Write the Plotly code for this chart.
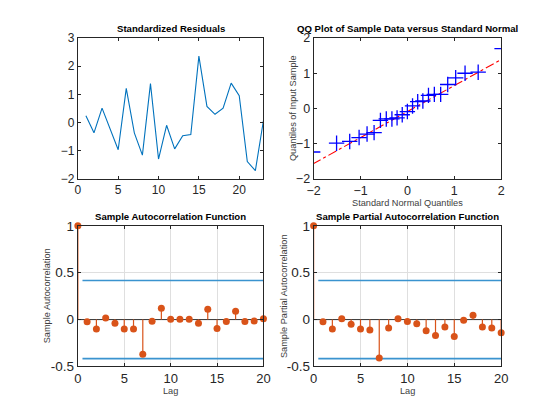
import plotly.graph_objects as go

# ---------------- data ----------------
res_t = list(range(1, 24))
res_vals = [0.24, -0.37, 0.51, -0.22, -0.97, 1.21, -0.37, -1.16, 1.38, -1.30,
            -0.10, -0.94, -0.47, -0.43, 2.36, 0.57, 0.29, 0.51, 1.40, 0.95,
            -1.39, -1.71, 0.07]

qq_theory = [-2.02, -1.51, -1.23, -1.03, -0.86, -0.71, -0.575, -0.45, -0.33, -0.22,
             -0.11, 0.0, 0.11, 0.22, 0.33, 0.45, 0.575, 0.71, 0.86, 1.03,
             1.23, 1.51, 2.02]
qq_sample = [-1.24, -0.99, -0.94, -0.83, -0.73, -0.69, -0.34, -0.30, -0.30, -0.27,
             -0.18, -0.09, 0.07, 0.19, 0.21, 0.37, 0.40, 0.40, 0.68, 0.87,
             1.00, 1.03, 1.70]
qq_line_x = [-2.02, 2.02]
qq_line_y = [-1.585, 1.405]

lags = list(range(0, 21))
acf_vals = [1.0, -0.024, -0.10, 0.017, -0.04, -0.10, -0.10, -0.37, -0.017, 0.12,
            0.003, 0.003, 0.003, -0.04, 0.11, -0.095, -0.02, 0.09, -0.02, -0.014, 0.01]
pacf_vals = [1.0, -0.024, -0.10, 0.01, -0.05, -0.10, -0.11, -0.41, -0.09, 0.01,
             -0.02, -0.045, -0.12, -0.17, -0.08, -0.18, -0.007, 0.045, -0.08, -0.09, -0.14]
conf_bound = 0.417
bound_x = [0.5, 20]

titles = ["Standardized Residuals", "QQ Plot of Sample Data versus Standard Normal",
          "Sample Autocorrelation Function", "Sample Partial Autocorrelation Function"]

# ---------------- styling ----------------
OFF = 8                      # default page body margin
W, H = 560 - 2 * OFF, 420 - 2 * OFF
FONT = "Liberation Sans, Arial, sans-serif"
AX = "#262626"
BLUE = "#0072BD"
ORANGE = "#D95319"
BOUND = "#3A93CF"

def px_x(p):
    return (p - OFF) / W

def px_y(p):
    return 1 - (p - OFF) / H

dom_x_left = [px_x(72.5), px_x(263)]
dom_x_right = [px_x(314.5), px_x(507)]
dom_y_top = [px_y(178), px_y(32)]
dom_y_bot = [px_y(373), px_y(227)]

fig = go.Figure()

# Residuals
fig.add_trace(go.Scatter(x=res_t, y=res_vals, mode="lines",
                         line=dict(color=BLUE, width=1.1),
                         xaxis="x", yaxis="y", showlegend=False))

# QQ plot
fig.add_trace(go.Scatter(x=qq_line_x, y=qq_line_y, mode="lines",
                         line=dict(color="#FF0000", width=1.1, dash="dashdot"),
                         xaxis="x2", yaxis="y2", showlegend=False))
fig.add_trace(go.Scatter(x=qq_theory, y=qq_sample, mode="markers",
                         marker=dict(symbol="cross-thin", size=11,
                                     line=dict(color="#0000FF", width=1.3)),
                         xaxis="x2", yaxis="y2", showlegend=False))

def add_stem(vals, xa, ya):
    sx, sy = [], []
    for l, v in zip(lags, vals):
        sx += [l, l, None]
        sy += [0, v, None]
    fig.add_trace(go.Scatter(x=[lags[0], lags[-1]], y=[0, 0], mode="lines",
                             line=dict(color="#333333", width=1),
                             xaxis=xa, yaxis=ya, showlegend=False))
    fig.add_trace(go.Scatter(x=bound_x, y=[conf_bound, conf_bound], mode="lines",
                             line=dict(color=BOUND, width=1.7),
                             xaxis=xa, yaxis=ya, showlegend=False))
    fig.add_trace(go.Scatter(x=bound_x, y=[-conf_bound, -conf_bound], mode="lines",
                             line=dict(color=BOUND, width=1.7),
                             xaxis=xa, yaxis=ya, showlegend=False))
    fig.add_trace(go.Scatter(x=sx, y=sy, mode="lines",
                             line=dict(color=ORANGE, width=1.2),
                             xaxis=xa, yaxis=ya, showlegend=False))
    fig.add_trace(go.Scatter(x=lags, y=vals, mode="markers",
                             marker=dict(color=ORANGE, size=7, line=dict(width=0)),
                             xaxis=xa, yaxis=ya, showlegend=False, cliponaxis=False))

add_stem(acf_vals, "x3", "y3")
add_stem(pacf_vals, "x4", "y4")

def axis(domain, rng, tickvals, anchor, grid=False, ticktext=None, fs=12):
    d = dict(domain=domain, range=rng, tickvals=tickvals, anchor=anchor,
             showline=True, linecolor=AX, linewidth=1, mirror="ticks",
             ticks="inside", ticklen=3, tickcolor=AX, tickwidth=1,
             tickfont=dict(family=FONT, size=fs, color=AX),
             showgrid=grid, gridcolor="#DFDFDF", gridwidth=1,
             zeroline=False, fixedrange=True)
    if ticktext is not None:
        d["ticktext"] = ticktext
    return d

fig.update_layout(
    width=W, height=H, margin=dict(l=0, r=0, t=0, b=0),
    paper_bgcolor="white", plot_bgcolor="white",
    xaxis=axis(dom_x_left, [0, 23], [0, 5, 10, 15, 20], "y"),
    yaxis=axis(dom_y_top, [-2, 3], [-2, -1, 0, 1, 2, 3], "x"),
    xaxis2=axis(dom_x_right, [-2, 2], [-2, -1, 0, 1, 2], "y2", fs=12.5),
    yaxis2=axis(dom_y_top, [-2, 2], [-2, -1, 0, 1, 2], "x2", fs=12.5),
    xaxis3=axis(dom_x_left, [0, 20], [0, 5, 10, 15, 20], "y3", grid=True, fs=13),
    yaxis3=axis(dom_y_bot, [-0.5, 1], [-0.5, 0, 0.5, 1], "x3", grid=True,
                ticktext=["-0.5", "0", "0.5", "1"], fs=13.5),
    xaxis4=axis(dom_x_right, [0, 20], [0, 5, 10, 15, 20], "y4", grid=True, fs=13),
    yaxis4=axis(dom_y_bot, [-0.5, 1], [-0.5, 0, 0.5, 1], "x4", grid=True,
                ticktext=["-0.5", "0", "0.5", "1"], fs=13.5),
    showlegend=False,
)

ann = []
title_font = dict(family=FONT, size=9.6, color="#000000")
label_font = dict(family=FONT, size=9.2, color="#404040")
# titles
for txt, xd, yd in [(titles[0], dom_x_left, dom_y_top), (titles[1], dom_x_right, dom_y_top),
                    (titles[2], dom_x_left, dom_y_bot), (titles[3], dom_x_right, dom_y_bot)]:
    ann.append(dict(text="<b>%s</b>" % txt, xref="paper", yref="paper",
                    x=(xd[0] + xd[1]) / 2, y=yd[1], yshift=2,
                    xanchor="center", yanchor="bottom", showarrow=False, font=title_font))
# axis labels
ann.append(dict(text="Standard Normal Quantiles", xref="paper", yref="paper",
                x=sum(dom_x_right) / 2, y=px_y(203), xanchor="center", yanchor="middle",
                showarrow=False, font=label_font))
ann.append(dict(text="Lag", xref="paper", yref="paper",
                x=sum(dom_x_left) / 2, y=px_y(399), xanchor="center", yanchor="middle",
                showarrow=False, font=label_font))
ann.append(dict(text="Lag", xref="paper", yref="paper",
                x=sum(dom_x_right) / 2, y=px_y(399), xanchor="center", yanchor="middle",
                showarrow=False, font=label_font))
ann.append(dict(text="Quantiles of Input Sample", xref="paper", yref="paper",
                x=px_x(294), y=sum(dom_y_top) / 2, xanchor="center", yanchor="middle",
                textangle=-90, showarrow=False, font=label_font))
ann.append(dict(text="Sample Autocorrelation", xref="paper", yref="paper",
                x=px_x(41), y=sum(dom_y_bot) / 2, xanchor="center", yanchor="middle",
                textangle=-90, showarrow=False, font=label_font))
ann.append(dict(text="Sample Partial Autocorrelation", xref="paper", yref="paper",
                x=px_x(284), y=sum(dom_y_bot) / 2, xanchor="center", yanchor="middle",
                textangle=-90, showarrow=False, font=label_font))
fig.update_layout(annotations=ann)

fig.write_html("out.html")
